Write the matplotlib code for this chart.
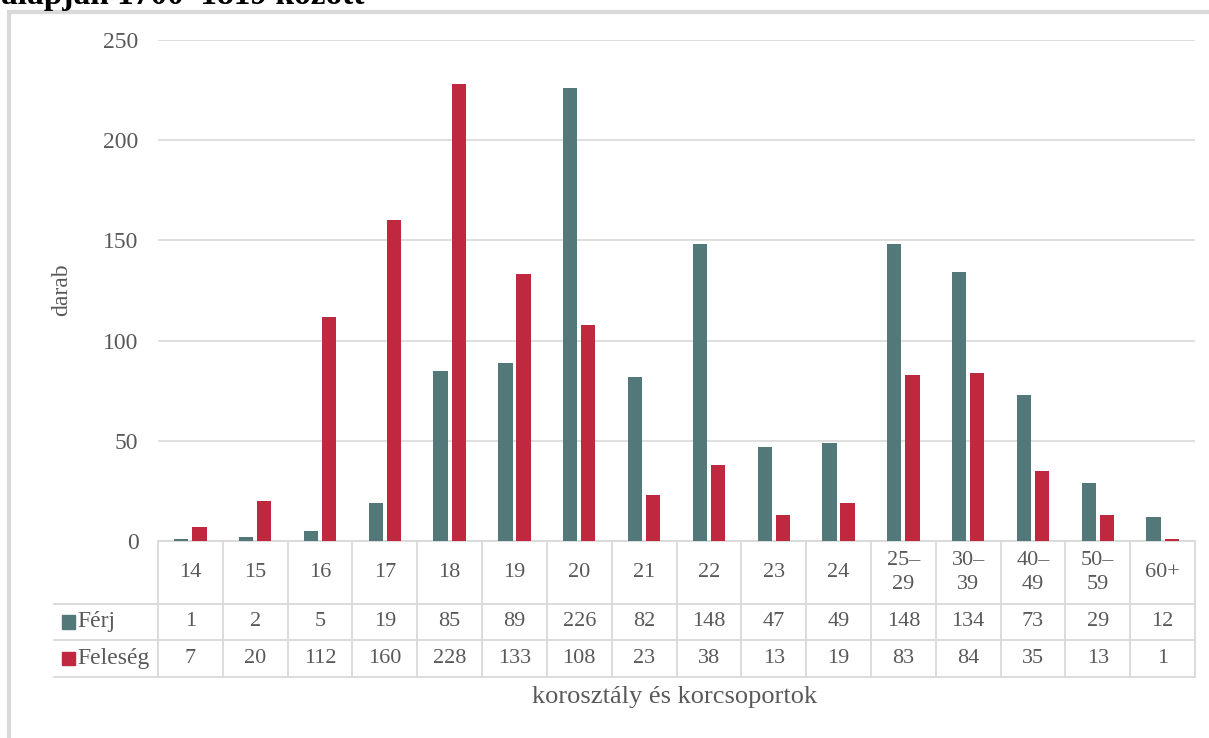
import numpy as np
import matplotlib
matplotlib.use("Agg")
import matplotlib.pyplot as plt
from matplotlib.patches import Rectangle
import matplotlib.transforms as mtransforms

categories = ["14", "15", "16", "17", "18", "19", "20", "21", "22", "23", "24",
              "25–\n29", "30–\n39", "40–\n49", "50–\n59", "60+"]
ferj = [1, 2, 5, 19, 85, 89, 226, 82, 148, 47, 49, 148, 134, 73, 29, 12]
feleseg = [7, 20, 112, 160, 228, 133, 108, 23, 38, 13, 19, 83, 84, 35, 13, 1]
series_names = ["Férj", "Feleség"]
yticks = [0, 50, 100, 150, 200, 250]

teal = "#52787A"
crimson = "#C0283F"
text_col = "#595959"
grid_col = "#D9D9D9"

plt.rcParams['font.family'] = ['Liberation Serif', 'DejaVu Serif']

W, H = 1209, 738
fig = plt.figure(figsize=(W / 100, H / 100), dpi=100)

# plot area in pixels: x 158..1195, y 40..541 (from top)
left, right, top, bottom = 158, 1195, 40, 541
ax = fig.add_axes([left / W, 1 - bottom / H, (right - left) / W, (bottom - top) / H])

x = np.arange(len(categories))
bw = 0.22
ax.bar(x - 0.14, ferj, width=bw, color=teal, zorder=3)
ax.bar(x + 0.14, feleseg, width=bw, color=crimson, zorder=3)

ax.set_xlim(-0.5, len(categories) - 0.5)
ax.set_ylim(0, 250)
ax.set_yticks(yticks)
ax.set_yticklabels([str(v) for v in yticks], color=text_col, fontsize=17)
ax.tick_params(axis='y', length=0, pad=14)
ax.set_xticks([])
for s in ax.spines.values():
    s.set_visible(False)
ax.grid(axis='y', color=grid_col, linewidth=1.2, zorder=0)
ax.set_axisbelow(True)
ax.set_ylabel("darab", color=text_col, fontsize=17)
ax.yaxis.set_label_coords(-(158 - 72) / (right - left), 1 - (290 - top) / (bottom - top))

# data table below the axes
trans = mtransforms.blended_transform_factory(ax.transData, ax.transAxes)
ph = bottom - top
r0 = 0.0
r1 = -(604 - bottom) / ph
r2 = -(640 - bottom) / ph
r3 = -(677 - bottom) / ph
xl = -0.5 - (158 - 54) / 64.8
xr = len(categories) - 0.5
lw = 1.3
ax.plot([-0.5, xr], [r0, r0], transform=trans, color=grid_col, lw=lw, clip_on=False)
for yy in (r1, r2, r3):
    ax.plot([xl, xr], [yy, yy], transform=trans, color=grid_col, lw=lw, clip_on=False)
for i in range(len(categories) + 1):
    ax.plot([i - 0.5, i - 0.5], [r0, r3], transform=trans, color=grid_col, lw=lw, clip_on=False)

for i, c in enumerate(categories):
    ax.text(i, (r0 + r1) / 2, c, transform=trans, ha='center', va='center',
            color=text_col, fontsize=16, linespacing=1.35)
    ax.text(i, (r1 + r2) / 2, str(ferj[i]), transform=trans, ha='center', va='center',
            color=text_col, fontsize=16)
    ax.text(i, (r2 + r3) / 2, str(feleseg[i]), transform=trans, ha='center', va='center',
            color=text_col, fontsize=16)

# legend keys in the row-label column
for yy, yb, name, col in ((r1, r2, series_names[0], teal), (r2, r3, series_names[1], crimson)):
    ym = (yy + yb) / 2
    ax.add_patch(Rectangle((xl + 0.13, ym - 0.013), 0.2, 0.026, transform=trans,
                           color=col, clip_on=False))
    ax.text(xl + 0.36, ym, name, transform=trans, ha='left', va='center',
            color=text_col, fontsize=17)

fig.text(675 / W, 1 - 697 / H, "korosztály és korcsoportok", ha='center', va='center',
         color=text_col, fontsize=19)

# outer border of the chart box
fig.patches.append(Rectangle((9 / W, -0.1), 1.2, 1 - 12 / H + 0.1, transform=fig.transFigure,
                             fill=False, edgecolor="#D9D9D9", linewidth=3))

# cropped title at the top edge
fig.text(1 / W, 1 - 4 / H, "alapján 1700–1819 között", ha='left', va='baseline',
         fontsize=24, fontweight='bold', color='black')

fig.savefig("out.png", dpi=100)
